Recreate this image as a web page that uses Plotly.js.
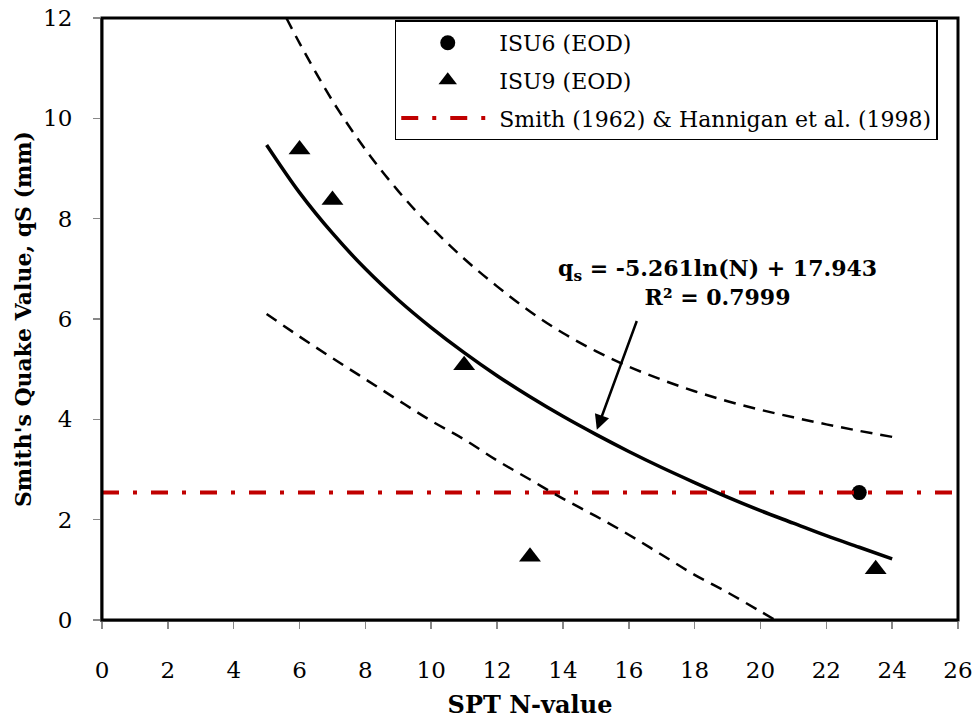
<!DOCTYPE html>
<html>
<head>
<meta charset="utf-8">
<script src="https://cdn.plot.ly/plotly-3.0.1.min.js"></script>
<style>html,body{margin:0;padding:0;background:#fff;}#chart{width:977px;height:725px;}</style>
</head>
<body>
<div id="chart"></div>
<script>
// ISU6 (EOD) data
const isu6N = [23];
const isu6Q = [2.54];
// ISU9 (EOD) data
const isu9N = [6, 7, 11, 13, 23.5];
const isu9Q = [9.38, 8.37, 5.08, 1.26, 1.01];
// Fitted trend curve
const fitN = [5, 6, 7, 8, 9, 10, 11, 12, 13, 14, 15, 16, 17, 18, 19, 20, 21, 22, 23, 24];
const fitQ = [9.47, 8.52, 7.71, 7.00, 6.38, 5.83, 5.33, 4.87, 4.45, 4.06, 3.70, 3.36, 3.04, 2.74, 2.45, 2.18, 1.93, 1.68, 1.45, 1.22];
// Upper dashed bound
const upN = [5.6, 6, 7, 8, 9, 10, 11, 12, 13, 14, 15, 16, 17, 18, 19, 20, 21, 22, 23, 24];
const upQ = [12.0, 11.5, 10.35, 9.38, 8.55, 7.83, 7.2, 6.65, 6.15, 5.72, 5.36, 5.05, 4.79, 4.56, 4.36, 4.19, 4.04, 3.9, 3.77, 3.65];
// Lower dashed bound
const loN = [5, 6, 7, 8, 9, 10, 11, 12, 13, 14, 15, 16, 17, 18, 19, 20, 20.45];
const loQ = [6.1, 5.65, 5.22, 4.8, 4.38, 3.97, 3.6, 3.18, 2.8, 2.42, 2.07, 1.7, 1.3, 0.9, 0.55, 0.17, 0.0];
// Smith (1962) & Hannigan et al. (1998) recommended quake
const smithN = [0, 26];
const smithQ = [2.54, 2.54];
// Axis ticks
const xTicks = [0, 2, 4, 6, 8, 10, 12, 14, 16, 18, 20, 22, 24, 26];
const yTicks = [0, 2, 4, 6, 8, 10, 12];
// Labels
const names = ["ISU6 (EOD)", "ISU9 (EOD)", "Smith (1962) & Hannigan et al. (1998)"];
const eqText = "<b>q<sub>s</sub> = -5.261ln(N) + 17.943</b><br><b>R² = 0.7999</b>";
const eqPos = [18.7, 6.72];
const arrowHead = [15.03, 3.79];
const arrowTail = [16.26, 5.99];

const serif = "DejaVu Serif";

const traces = [
  {x: isu6N, y: isu6Q, type: 'scatter', mode: 'markers', name: names[0], legendgroup: 'g1',
   marker: {symbol: 'circle', size: 15, color: '#000'}},
  {x: isu9N, y: isu9Q, type: 'scatter', mode: 'markers', name: names[1], legendgroup: 'g2',
   marker: {symbol: 'triangle-up', size: 19, color: '#000'}},
  {x: smithN, y: smithQ, type: 'scatter', mode: 'lines', name: names[2], legendgroup: 'g3',
   line: {color: '#c00000', width: 4, dash: '17px,14px,4px,14px'}},
  {x: fitN, y: fitQ, type: 'scatter', mode: 'lines', showlegend: false,
   line: {color: '#000', width: 3.5, shape: 'spline'}},
  {x: upN, y: upQ, type: 'scatter', mode: 'lines', showlegend: false,
   line: {color: '#000', width: 2.5, dash: '12px,8px', shape: 'spline'}},
  {x: loN, y: loQ, type: 'scatter', mode: 'lines', showlegend: false,
   line: {color: '#000', width: 2.5, dash: '12px,8px', shape: 'spline'}}
];

const layout = {
  width: 977, height: 725,
  margin: {l: 102, r: 19, t: 18, b: 105},
  paper_bgcolor: '#fff', plot_bgcolor: '#fff',
  font: {family: serif, color: '#000', size: 22},
  showlegend: true,
  legend: {x: 0.342, y: 0.996, xanchor: 'left', yanchor: 'top',
    bgcolor: '#fff', bordercolor: '#000', borderwidth: 1.5,
    font: {family: serif, size: 22, color: '#000'}, tracegroupgap: 6, itemwidth: 93},
  xaxis: {range: [0, 26], tickvals: xTicks, ticks: 'outside', ticklen: 7, tickwidth: 1.5,
    tickcolor: '#888', showgrid: false, zeroline: false, showline: true, linecolor: '#888', linewidth: 2,
    tickfont: {family: serif, size: 23}, ticklabelstandoff: 21, fixedrange: true, automargin: false,
    title: {text: '<b>SPT N-value</b>', font: {family: serif, size: 24}, standoff: 15}},
  yaxis: {range: [0, 12], tickvals: yTicks, ticks: 'outside', ticklen: 7, tickwidth: 1.5,
    tickcolor: '#888', showgrid: false, zeroline: false, showline: true, linecolor: '#888', linewidth: 2,
    tickfont: {family: serif, size: 23}, ticklabelstandoff: 16, fixedrange: true, automargin: false,
    title: {text: "<b>Smith's Quake Value, qS (mm)</b>", font: {family: serif, size: 22}, standoff: 5}},
  shapes: [
    {type: 'rect', xref: 'paper', yref: 'paper', x0: 0, x1: 1, y0: 0, y1: 1,
     line: {color: '#000', width: 3}, layer: 'above'}
  ],
  annotations: [
    {x: eqPos[0], y: eqPos[1], xref: 'x', yref: 'y', text: eqText, showarrow: false,
     font: {family: serif, size: 22, color: '#000'}, align: 'center'},
    {x: arrowHead[0], y: arrowHead[1], ax: arrowTail[0], ay: arrowTail[1],
     xref: 'x', yref: 'y', axref: 'x', ayref: 'y', text: '', showarrow: true,
     arrowhead: 2, arrowsize: 1.2, arrowwidth: 2.5, arrowcolor: '#000'}
  ]
};

Plotly.newPlot('chart', traces, layout, {displayModeBar: false, staticPlot: true});
</script>
</body>
</html>
